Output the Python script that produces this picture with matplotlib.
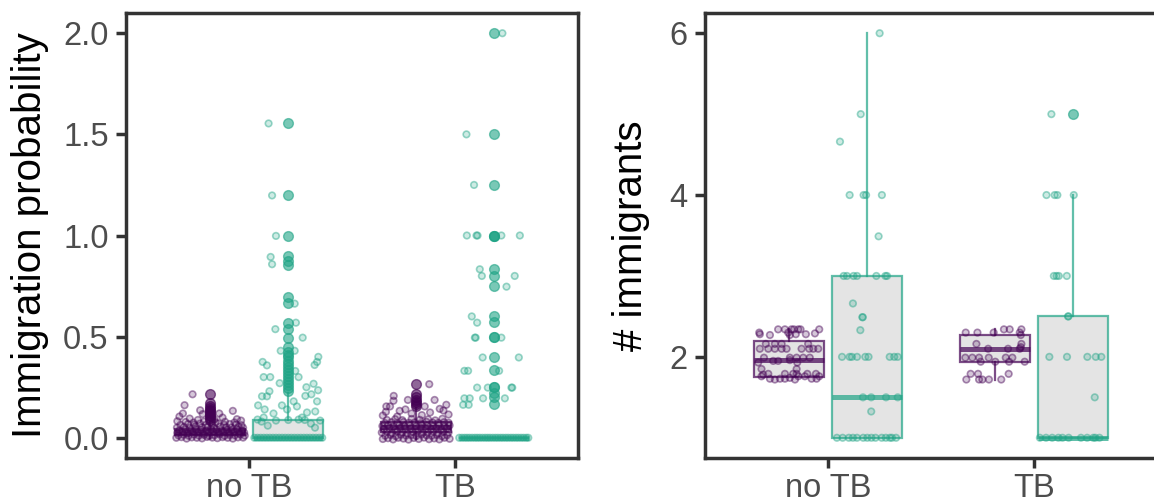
import matplotlib
matplotlib.use("Agg")
import matplotlib.pyplot as plt
from matplotlib.colors import to_rgba

plt.rcParams['font.family'] = ['Liberation Sans', 'DejaVu Sans']

# categories and colours
categories = ["no TB", "TB"]
PURPLE = "#440154"
GREEN = "#20A486"
FRAME = "#333333"

# ---------------- left panel: immigration probability ----------------
# box stats: [whislo, q1, med, q3, whishi]
prob_box_notb_p = [0.0, 0.012, 0.027, 0.042, 0.083]
prob_box_notb_g = [0.0, 0.0, 0.0, 0.09, 0.22]
prob_box_tb_p = [-0.008, 0.031, 0.055, 0.08, 0.148]
prob_box_tb_g = [0.0, 0.0, 0.0, 0.0, 0.0]

prob_out_notb_p = [0.215, 0.17, 0.158, 0.148, 0.138, 0.13, 0.122, 0.114, 0.106, 0.098, 0.09]
prob_out_notb_g = [1.554, 1.198, 0.998, 0.899, 0.875, 0.854, 0.696, 0.665, 0.569, 0.537,
                   0.495, 0.45, 0.426, 0.41, 0.397, 0.38, 0.365, 0.35, 0.335, 0.32, 0.305,
                   0.29, 0.275, 0.26, 0.245, 0.23]
prob_out_tb_p = [0.265, 0.215, 0.2, 0.188, 0.176, 0.165, 0.155]
prob_out_tb_g = [2.0, 1.5, 1.25, 1.0, 1.0, 1.0, 0.833, 0.8, 0.75, 0.6, 0.571, 0.5, 0.5,
                 0.4, 0.333, 0.25, 0.25, 0.222, 0.2, 0.167]

# jittered points: (offset from box centre, value)
prob_pts_notb_p = [
    (-0.086, 0.215), (-0.125, 0.161), (-0.049, 0.136), (0.11, 0.133), (-0.133, 0.12),
    (-0.037, 0.117), (0.044, 0.12), (-0.15, 0.105), (0.06, 0.1), (-0.1, 0.095),
    (0.13, 0.092), (-0.06, 0.088), (0.02, 0.09), (0.15, 0.085), (-0.16, 0.082),
    (-0.165, 0.0), (-0.14, 0.003), (-0.115, -0.004), (-0.09, 0.002), (-0.065, 0.0),
    (-0.04, -0.003), (-0.015, 0.004), (0.01, 0.001), (0.035, -0.002), (0.06, 0.003),
    (0.085, 0.0), (0.11, -0.004), (0.135, 0.002), (0.16, 0.001),
    (-0.155, 0.012), (-0.13, 0.015), (-0.105, 0.01), (-0.08, 0.016), (-0.055, 0.011),
    (-0.03, 0.014), (-0.005, 0.009), (0.02, 0.013), (0.045, 0.017), (0.07, 0.01),
    (0.095, 0.014), (0.12, 0.012), (0.145, 0.016), (0.168, 0.011),
    (-0.16, 0.024), (-0.135, 0.027), (-0.11, 0.022), (-0.085, 0.028), (-0.06, 0.025),
    (-0.035, 0.021), (-0.01, 0.026), (0.015, 0.029), (0.04, 0.023), (0.065, 0.027),
    (0.09, 0.024), (0.115, 0.028), (0.14, 0.022), (0.165, 0.026),
    (-0.15, 0.037), (-0.12, 0.04), (-0.095, 0.035), (-0.07, 0.041), (-0.045, 0.038),
    (-0.02, 0.036), (0.005, 0.042), (0.03, 0.039), (0.055, 0.035), (0.08, 0.04),
    (0.105, 0.037), (0.13, 0.043), (0.155, 0.036),
    (-0.162, 0.05), (-0.128, 0.054), (-0.1, 0.048), (-0.072, 0.056), (-0.041, 0.051),
    (-0.012, 0.053), (0.018, 0.049), (0.048, 0.055), (0.078, 0.052), (0.102, 0.05),
    (0.138, 0.054), (0.16, 0.049),
    (-0.145, 0.064), (-0.108, 0.068), (-0.078, 0.065), (-0.05, 0.07), (-0.022, 0.063),
    (0.008, 0.067), (0.038, 0.071), (0.068, 0.064), (0.095, 0.068), (0.125, 0.066),
    (0.152, 0.062),
    (-0.12, 0.078), (-0.082, 0.075), (-0.03, 0.08), (0.025, 0.077), (0.072, 0.079),
    (0.118, 0.076),
]
prob_pts_notb_g = [
    (-0.096, 1.554), (-0.079, 1.198), (-0.06, 0.998), (-0.086, 0.894), (-0.079, 0.858),
    (0.031, 0.663), (0.037, 0.569), (-0.063, 0.537), (0.07, 0.495), (-0.037, 0.43),
    (0.031, 0.43), (-0.125, 0.375), (-0.104, 0.358), (0.146, 0.4), (0.14, 0.375),
    (0.128, 0.36), (-0.12, 0.3), (-0.088, 0.3), (-0.042, 0.27), (0.034, 0.33),
    (0.05, 0.3), (0.123, 0.267), (0.088, 0.25), (0.145, 0.235), (-0.128, 0.205),
    (-0.104, 0.205), (-0.092, 0.23), (0.083, 0.207), (0.112, 0.215), (0.14, 0.18),
    (-0.031, 0.16), (0.042, 0.155), (-0.147, 0.16), (-0.115, 0.14), (-0.006, 0.14),
    (0.026, 0.18), (0.091, 0.125), (0.131, 0.13), (0.067, 0.1), (-0.12, 0.1),
    (-0.072, 0.12),
    (-0.13, 0.08), (-0.06, 0.085), (0.05, 0.09), (0.11, 0.07), (0.155, 0.085),
    (0.0, 0.088), (-0.15, 0.09), (0.08, 0.088), (-0.1, 0.06), (0.13, 0.05),
    (-0.165, 0.0), (-0.15, 0.0), (-0.135, 0.0), (-0.12, 0.0), (-0.105, 0.0),
    (-0.09, 0.0), (-0.075, 0.0), (-0.06, 0.0), (-0.045, 0.0), (-0.03, 0.0),
    (-0.015, 0.0), (0.0, 0.0), (0.015, 0.0), (0.03, 0.0), (0.045, 0.0),
    (0.06, 0.0), (0.075, 0.0), (0.09, 0.0), (0.105, 0.0), (0.12, 0.0),
    (0.135, 0.0), (0.15, 0.0), (0.165, 0.0),
]
prob_pts_tb_p = [
    (0.066, 0.265), (-0.107, 0.207), (-0.108, 0.183), (-0.143, 0.155), (-0.125, 0.155),
    (-0.038, 0.187), (0.044, 0.155), (0.092, 0.187), (0.149, 0.163), (0.117, 0.143),
    (-0.078, 0.133), (-0.05, 0.14), (-0.145, 0.128), (-0.02, 0.12), (0.07, 0.125),
    (0.135, 0.135), (-0.16, 0.11), (0.16, 0.115), (0.03, 0.112), (-0.09, 0.105),
    (-0.16, -0.006), (-0.135, -0.002), (-0.11, -0.008), (-0.085, 0.0), (-0.06, -0.004),
    (-0.035, -0.009), (-0.01, -0.001), (0.015, -0.006), (0.04, 0.001), (0.065, -0.007),
    (0.09, -0.003), (0.115, -0.008), (0.14, 0.0), (0.165, -0.005),
    (-0.148, 0.01), (-0.122, 0.014), (-0.097, 0.008), (-0.072, 0.015), (-0.047, 0.011),
    (-0.022, 0.013), (0.003, 0.009), (0.028, 0.016), (0.053, 0.012), (0.078, 0.01),
    (0.103, 0.014), (0.128, 0.008), (0.153, 0.013),
    (-0.165, 0.026), (-0.14, 0.03), (-0.115, 0.024), (-0.09, 0.031), (-0.065, 0.027),
    (-0.04, 0.023), (-0.015, 0.029), (0.01, 0.032), (0.035, 0.025), (0.06, 0.028),
    (0.085, 0.03), (0.11, 0.024), (0.135, 0.029), (0.16, 0.027),
    (-0.155, 0.043), (-0.128, 0.047), (-0.1, 0.041), (-0.075, 0.048), (-0.05, 0.044),
    (-0.025, 0.046), (0.0, 0.042), (0.025, 0.049), (0.05, 0.045), (0.075, 0.043),
    (0.1, 0.047), (0.125, 0.041), (0.15, 0.046),
    (-0.162, 0.058), (-0.135, 0.062), (-0.108, 0.056), (-0.08, 0.063), (-0.055, 0.059),
    (-0.028, 0.061), (0.002, 0.057), (0.03, 0.064), (0.058, 0.06), (0.085, 0.058),
    (0.112, 0.062), (0.14, 0.057), (0.165, 0.061),
    (-0.15, 0.073), (-0.118, 0.077), (-0.09, 0.071), (-0.06, 0.078), (-0.032, 0.074),
    (-0.005, 0.076), (0.025, 0.072), (0.052, 0.079), (0.082, 0.075), (0.11, 0.073),
    (0.138, 0.077), (0.16, 0.074),
    (-0.14, 0.088), (-0.1, 0.092), (-0.065, 0.087), (-0.02, 0.093), (0.02, 0.089),
    (0.06, 0.091), (0.095, 0.086), (0.13, 0.094),
]
prob_pts_tb_g = [
    (0.042, 2.0), (-0.133, 1.5), (-0.096, 1.25), (-0.131, 1.0), (-0.079, 1.0),
    (-0.084, 1.0), (0.037, 1.0), (0.127, 1.0), (-0.068, 0.833), (-0.058, 0.8),
    (0.102, 0.8), (0.062, 0.747), (-0.107, 0.6), (-0.081, 0.569), (-0.088, 0.495),
    (-0.092, 0.495), (0.037, 0.495), (-0.054, 0.397), (0.122, 0.397), (-0.143, 0.331),
    (-0.125, 0.331), (0.026, 0.331), (-0.081, 0.248), (-0.029, 0.248), (0.086, 0.248),
    (0.09, 0.248), (-0.143, 0.195), (-0.117, 0.195), (-0.052, 0.195), (0.054, 0.195),
    (-0.149, 0.163), (-0.122, 0.163),
    (-0.168, 0.0), (-0.155, 0.0), (-0.142, 0.0), (-0.13, 0.0), (-0.118, 0.0),
    (-0.105, 0.0), (-0.092, 0.0), (-0.08, 0.0), (-0.068, 0.0), (-0.055, 0.0),
    (-0.042, 0.0), (-0.03, 0.0), (-0.018, 0.0), (-0.005, 0.0), (0.008, 0.0),
    (0.02, 0.0), (0.033, 0.0), (0.045, 0.0), (0.058, 0.0), (0.07, 0.0),
    (0.083, 0.0), (0.095, 0.0), (0.108, 0.0), (0.12, 0.0), (0.133, 0.0),
    (0.145, 0.0), (0.158, 0.0), (0.168, 0.0),
]

# ---------------- right panel: number of immigrants ----------------
imm_box_notb_p = [1.745, 1.745, 1.96, 2.19, 2.34]
imm_box_notb_g = [1.0, 1.0, 1.5, 3.0, 6.0]
imm_box_tb_p = [1.72, 1.94, 2.10, 2.27, 2.34]
imm_box_tb_g = [1.0, 1.0, 1.0, 2.5, 4.0]

imm_out_notb_p = []
imm_out_notb_g = []
imm_out_tb_p = []
imm_out_tb_g = [5.0]

imm_pts_notb_p = [
    (-0.146, 2.30), (-0.143, 2.28), (-0.094, 2.27), (-0.054, 2.34), (-0.021, 2.34),
    (-0.005, 2.30), (0.011, 2.34), (0.023, 2.34), (0.032, 2.28), (0.044, 2.34),
    (0.055, 2.34), (0.081, 2.28), (0.125, 2.29), (0.146, 2.34), (0.003, 2.27),
    (-0.114, 2.16), (-0.07, 2.16), (-0.037, 2.16), (0.092, 2.16), (-0.102, 2.10),
    (-0.143, 2.10), (-0.07, 2.10), (-0.037, 2.10), (-0.013, 2.10), (0.06, 2.10),
    (0.097, 2.10), (0.117, 2.10), (0.141, 2.10),
    (-0.123, 1.99), (0.003, 1.99), (0.036, 1.99), (0.068, 1.99), (0.1, 1.99),
    (-0.078, 1.95), (-0.054, 1.95), (-0.151, 1.93), (0.039, 1.93), (0.003, 1.96),
    (-0.135, 1.85), (0.036, 1.85), (-0.102, 1.79), (-0.021, 1.79), (0.019, 1.79),
    (0.036, 1.79), (0.088, 1.79), (0.13, 1.79), (-0.135, 1.76), (-0.094, 1.73),
    (-0.07, 1.72), (-0.045, 1.73), (-0.021, 1.73), (0.003, 1.74), (0.028, 1.72),
    (0.044, 1.76), (0.076, 1.76), (0.109, 1.73), (0.133, 1.73), (0.146, 1.76),
    (-0.127, 1.78),
]
imm_pts_notb_g = [
    (0.06, 6.0), (-0.032, 5.0), (-0.133, 4.66), (-0.086, 4.0), (-0.018, 4.0),
    (-0.006, 4.0), (0.071, 4.0), (0.055, 3.49),
    (-0.115, 3.0), (-0.099, 3.0), (-0.067, 3.0), (-0.05, 3.0), (0.044, 3.0),
    (0.088, 3.0), (0.096, 3.0),
    (-0.07, 2.66), (-0.024, 2.49), (-0.022, 2.49), (-0.034, 2.33),
    (-0.123, 2.0), (-0.086, 2.0), (-0.075, 2.0), (-0.05, 2.0), (-0.01, 2.0),
    (0.006, 2.0), (0.109, 2.0), (0.131, 2.0), (0.148, 2.0),
    (-0.021, 1.5), (0.019, 1.5), (0.091, 1.5), (0.148, 1.5), (0.019, 1.325),
    (-0.148, 1.0), (-0.12, 1.0), (-0.09, 1.0), (-0.07, 1.0), (-0.05, 1.0),
    (-0.02, 1.0), (0.0, 1.0), (0.02, 1.0), (0.04, 1.0), (0.07, 1.0),
    (0.09, 1.0), (0.11, 1.0), (0.12, 1.0), (0.14, 1.0),
]
imm_pts_tb_p = [
    (-0.141, 2.30), (-0.084, 2.30), (-0.005, 2.30), (0.045, 2.34), (0.073, 2.34),
    (0.122, 2.30), (0.13, 2.34), (0.127, 2.27),
    (-0.089, 2.16), (0.13, 2.16), (0.127, 2.12),
    (-0.143, 1.99), (-0.109, 1.99), (-0.076, 1.99), (-0.029, 1.99), (0.054, 1.99),
    (0.086, 1.99), (0.122, 2.10), (0.065, 2.10), (-0.032, 2.10),
    (-0.068, 1.94), (0.07, 1.94), (0.146, 1.94), (0.003, 1.94),
    (-0.117, 1.79), (-0.081, 1.79), (0.068, 1.79), (-0.138, 1.72), (-0.076, 1.72),
    (-0.06, 1.72), (-0.028, 1.72), (0.032, 1.72),
]
imm_pts_tb_g = [
    (-0.104, 5.0), (-0.128, 4.0), (-0.088, 4.0), (-0.075, 4.0), (0.005, 4.0),
    (-0.092, 3.0), (-0.079, 3.0), (-0.068, 3.0), (-0.029, 3.0),
    (-0.023, 2.5), (-0.021, 2.5),
    (-0.114, 2.0), (-0.028, 2.0), (0.071, 2.0), (0.112, 2.0), (0.139, 2.0),
    (0.107, 1.5),
    (-0.16, 1.0), (-0.13, 1.0), (-0.1, 1.0), (-0.07, 1.0), (-0.05, 1.0),
    (-0.02, 1.0), (0.04, 1.0), (0.07, 1.0), (0.1, 1.0), (0.11, 1.0), (0.13, 1.0),
]

DODGE = 0.19
BOX_W = 0.34


def draw_group(ax, pos, box, fliers, pts, color):
    stats = dict(whislo=box[0], q1=box[1], med=box[2], q3=box[3], whishi=box[4],
                 fliers=fliers)
    line_c = to_rgba(color, 0.7)
    ax.bxp([stats], positions=[pos], widths=BOX_W, patch_artist=True,
           showcaps=False, manage_ticks=False,
           boxprops=dict(facecolor="#E4E4E4", edgecolor=line_c, linewidth=1.6),
           medianprops=dict(color=line_c, linewidth=3.6, solid_capstyle="butt"),
           whiskerprops=dict(color=line_c, linewidth=1.6),
           flierprops=dict(marker="o", markersize=7, markerfacecolor=color,
                           markeredgecolor=color, alpha=0.6, linestyle="none"))
    xs = [pos + p[0] for p in pts]
    ys = [p[1] for p in pts]
    ax.scatter(xs, ys, s=22, facecolors=[to_rgba(color, 0.22)] * len(xs),
               edgecolors=[to_rgba(color, 0.45)] * len(xs), linewidths=1.2, zorder=3)


def style_axis(ax, ylim, yticks, yticklabels, ylabel, label_x):
    ax.set_xlim(0.4, 2.6)
    ax.set_ylim(*ylim)
    ax.set_xticks([1, 2])
    ax.set_xticklabels(categories)
    ax.set_yticks(yticks)
    ax.set_yticklabels(yticklabels)
    for sp in ax.spines.values():
        sp.set_color(FRAME)
        sp.set_linewidth(2.5)
    ax.tick_params(axis="both", length=7, width=2.5, color=FRAME,
                   labelsize=23.5, labelcolor="#4D4D4D")
    ax.tick_params(axis="x", pad=3.6)
    ax.tick_params(axis="y", pad=5.5)
    ax.set_ylabel(ylabel, fontsize=29, color="black")
    ax.yaxis.set_label_coords(label_x, 0.5)


fig = plt.figure(figsize=(11.54, 5.04), dpi=100)
axL = fig.add_axes([126 / 1154, 46 / 504, 452 / 1154, 445 / 504])
axR = fig.add_axes([705 / 1154, 46 / 504, 452 / 1154, 445 / 504])

draw_group(axL, 1 - DODGE, prob_box_notb_p, prob_out_notb_p, prob_pts_notb_p, PURPLE)
draw_group(axL, 1 + DODGE, prob_box_notb_g, prob_out_notb_g, prob_pts_notb_g, GREEN)
draw_group(axL, 2 - DODGE, prob_box_tb_p, prob_out_tb_p, prob_pts_tb_p, PURPLE)
draw_group(axL, 2 + DODGE, prob_box_tb_g, prob_out_tb_g, prob_pts_tb_g, GREEN)
style_axis(axL, (-0.1, 2.1), [0, 0.5, 1.0, 1.5, 2.0],
           ["0.0", "0.5", "1.0", "1.5", "2.0"], "Immigration probability", -0.170)

draw_group(axR, 1 - DODGE, imm_box_notb_p, imm_out_notb_p, imm_pts_notb_p, PURPLE)
draw_group(axR, 1 + DODGE, imm_box_notb_g, imm_out_notb_g, imm_pts_notb_g, GREEN)
draw_group(axR, 2 - DODGE, imm_box_tb_p, imm_out_tb_p, imm_pts_tb_p, PURPLE)
draw_group(axR, 2 + DODGE, imm_box_tb_g, imm_out_tb_g, imm_pts_tb_g, GREEN)
style_axis(axR, (0.75, 6.25), [2, 4, 6], ["2", "4", "6"], "# immigrants", -0.122)

fig.savefig("out.png", dpi=100)
